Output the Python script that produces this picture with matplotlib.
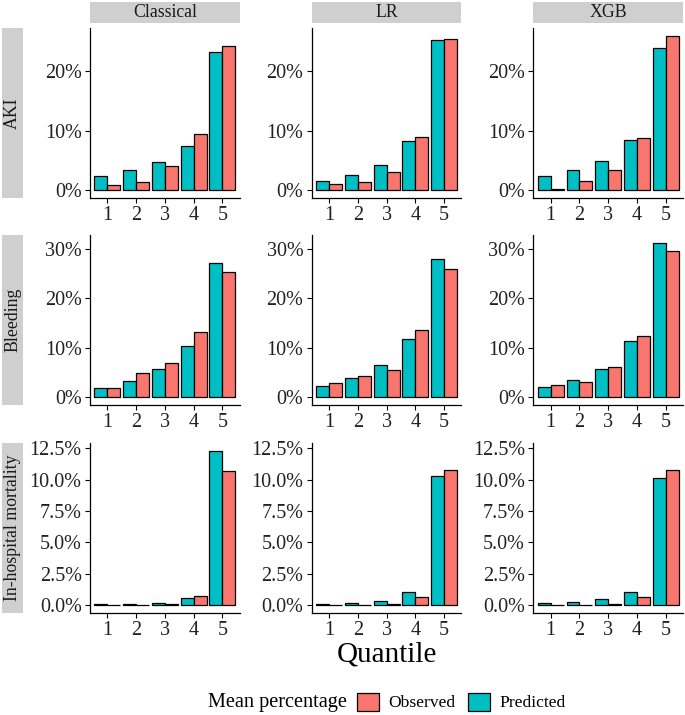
import matplotlib
matplotlib.use("Agg")
import matplotlib.pyplot as plt
from matplotlib.patches import Rectangle, Patch
import numpy as np

plt.rcParams['font.family'] = ['Liberation Serif', 'DejaVu Serif']

# ---- data (mean percentage per quantile) ----
quantiles = [1, 2, 3, 4, 5]
models = ['Classical', 'LR', 'XGB']
outcomes = ['AKI', 'Bleeding', 'In-hospital mortality']

# AKI
aki_pred_classical = [2.35, 3.47, 4.70, 7.50, 23.25]
aki_obs_classical = [0.95, 1.46, 4.03, 9.41, 24.30]
aki_pred_lr = [1.62, 2.63, 4.20, 8.35, 25.27]
aki_obs_lr = [1.06, 1.46, 3.08, 8.96, 25.50]
aki_pred_xgb = [2.40, 3.42, 4.99, 8.46, 23.90]
aki_obs_xgb = [0.28, 1.51, 3.47, 8.74, 26.00]

# Bleeding
bleed_pred_classical = [1.82, 3.30, 5.74, 10.27, 27.16]
bleed_obs_classical = [1.82, 4.86, 6.96, 13.18, 25.20]
bleed_pred_lr = [2.36, 3.99, 6.42, 11.70, 27.97]
bleed_obs_lr = [2.90, 4.26, 5.47, 13.50, 25.95]
bleed_pred_xgb = [2.03, 3.45, 5.68, 11.35, 31.20]
bleed_obs_xgb = [2.43, 3.18, 6.08, 12.43, 29.60]

# In-hospital mortality
mort_pred_classical = [0.08, 0.10, 0.21, 0.61, 12.30]
mort_obs_classical = [0.02, 0.02, 0.10, 0.74, 10.70]
mort_pred_lr = [0.08, 0.16, 0.37, 1.04, 10.30]
mort_obs_lr = [0.01, 0.01, 0.08, 0.69, 10.80]
mort_pred_xgb = [0.16, 0.24, 0.48, 1.09, 10.10]
mort_obs_xgb = [0.01, 0.01, 0.08, 0.69, 10.80]

predicted = [
    [aki_pred_classical, aki_pred_lr, aki_pred_xgb],
    [bleed_pred_classical, bleed_pred_lr, bleed_pred_xgb],
    [mort_pred_classical, mort_pred_lr, mort_pred_xgb],
]
observed = [
    [aki_obs_classical, aki_obs_lr, aki_obs_xgb],
    [bleed_obs_classical, bleed_obs_lr, bleed_obs_xgb],
    [mort_obs_classical, mort_obs_lr, mort_obs_xgb],
]
yticks = [[0, 10, 20], [0, 10, 20, 30], [0, 2.5, 5, 7.5, 10, 12.5]]
yfmt = ['{:.0f}%', '{:.0f}%', '{:.1f}%']

RED = '#F8766D'
TEAL = '#00BFC4'
STRIP = '#CFCFCF'
W, H = 685, 715

fig = plt.figure(figsize=(W / 100, H / 100), dpi=100)

col_left = [90, 311.7, 533.4]
col_w = 149.7
row_top = [28, 235, 443]
row_h = 170

x = np.arange(1, 6)
for r in range(3):
    ymax = max(max(max(p) for p in predicted[r]), max(max(o) for o in observed[r]))
    for c in range(3):
        ax = fig.add_axes([col_left[c] / W, 1 - (row_top[r] + row_h) / H, col_w / W, row_h / H])
        ax.bar(x - 0.225, predicted[r][c], width=0.45, color=TEAL, edgecolor='black', linewidth=0.9)
        ax.bar(x + 0.225, observed[r][c], width=0.45, color=RED, edgecolor='black', linewidth=0.9)
        ax.set_xlim(0.4, 5.6)
        ax.set_ylim(-0.05 * ymax, 1.05 * ymax)
        ax.set_xticks(x)
        ax.set_xticklabels([str(q) for q in quantiles])
        ax.set_yticks(yticks[r])
        ax.set_yticklabels([yfmt[r].format(v) for v in yticks[r]])
        ax.tick_params(axis='both', labelsize=14.5, length=3.5, width=0.8, pad=2.5, colors='black',
                       labelcolor='#222222')
        for s in ['top', 'right']:
            ax.spines[s].set_visible(False)
        for s in ['left', 'bottom']:
            ax.spines[s].set_linewidth(0.9)

        # column strip
        if r == 0:
            ax.add_patch(Rectangle((0, 1 + 5.3 / row_h), 1, 21.2 / row_h, transform=ax.transAxes,
                                   facecolor=STRIP, edgecolor='none', clip_on=False))
            ax.text(0.5, 1 + (5.3 + 10.6) / row_h, models[c], transform=ax.transAxes,
                    ha='center', va='center', fontsize=12.8, color='#1a1a1a')
        # row strip
        if c == 0:
            ax.add_patch(Rectangle(((1.7 - 90) / col_w, 0), 21.6 / col_w, 1, transform=ax.transAxes,
                                   facecolor=STRIP, edgecolor='none', clip_on=False))
            ax.text((12.5 - 90) / col_w, 0.5, outcomes[r], transform=ax.transAxes, rotation=90,
                    ha='center', va='center', fontsize=12.8, color='#1a1a1a')

fig.text(386.5 / W, 1 - 655 / H, 'Quantile', ha='center', va='center', fontsize=21)

fig.text(208 / W, 1 - 702 / H, 'Mean percentage', ha='left', va='center', fontsize=14.6)
handles = [Patch(facecolor=RED, edgecolor='black', linewidth=0.9),
           Patch(facecolor=TEAL, edgecolor='black', linewidth=0.9)]
fig.legend(handles, ['Observed', 'Predicted'], ncol=2, loc='center left',
           bbox_to_anchor=(357 / W, 1 - 702 / H), frameon=False, fontsize=12.6,
           handlelength=1.25, handleheight=1.2, handletextpad=0.55, columnspacing=0.7,
           borderpad=0, borderaxespad=0)

fig.savefig('out.png', dpi=100)
